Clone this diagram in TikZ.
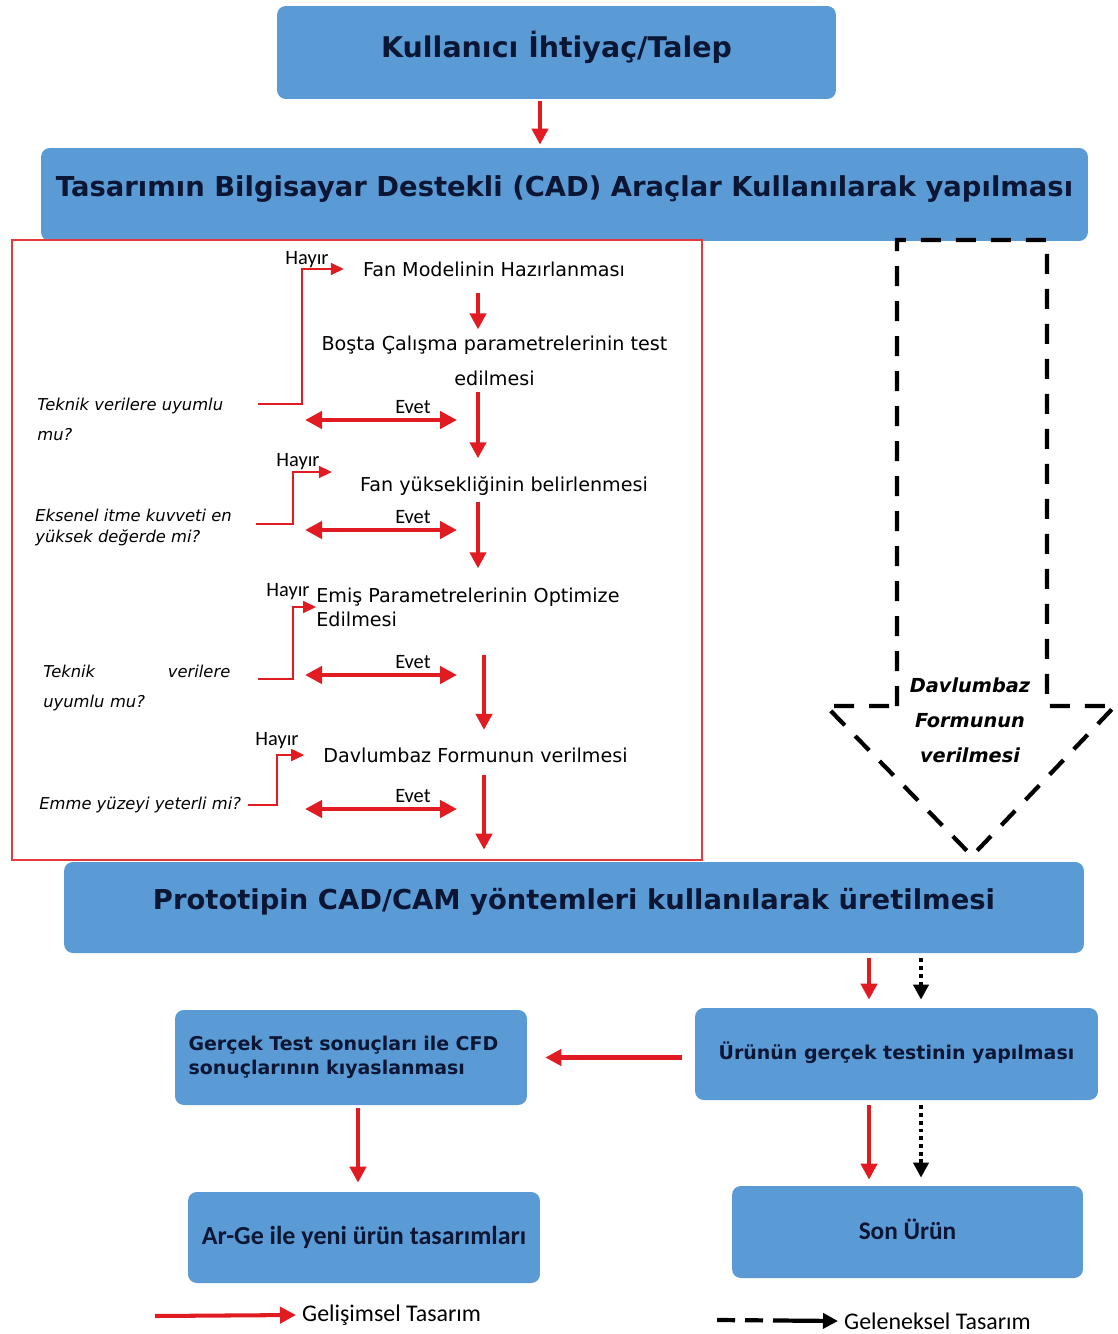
\documentclass[tikz,border=0pt]{standalone}
\usepackage{fontspec}
\setmainfont{DejaVu Sans}
\newfontfamily\calfont{Carlito}
\usetikzlibrary{arrows.meta}
\definecolor{boxblue}{HTML}{5B9BD5}
\definecolor{boxtext}{HTML}{0B1634}
\definecolor{flowred}{HTML}{E01B22}
\definecolor{framered}{HTML}{E5393B}
\tikzset{
  bluebox/.style={draw=none,fill=boxblue,rounded corners=5pt,text=boxtext,font=\bfseries,align=center},
  flowtext/.style={font=\fontsize{10.9}{13}\selectfont,align=center},
  question/.style={font=\itshape\fontsize{9.3}{17}\selectfont,align=left,inner sep=0pt,anchor=west},
  smalllabel/.style={font=\calfont\fontsize{11.6}{13}\selectfont},
  redarrow/.style={draw=flowred,line width=2.3pt,-{Triangle[width=0.32cm,length=0.32cm]}},
  evetarrow/.style={draw=flowred,line width=2.6pt,{Triangle[width=0.34cm,length=0.34cm]}-{Triangle[width=0.34cm,length=0.34cm]}},
  hayirarrow/.style={draw=flowred,line width=1pt,-{Triangle[width=0.24cm,length=0.26cm]}},
  dotarrow/.style={draw=black,line width=2.2pt,dash pattern=on 2.2pt off 2.2pt,-{Triangle[width=0.3cm,length=0.3cm]}},
}
\begin{document}
\begin{tikzpicture}[x=0.02cm,y=-0.02cm]
\useasboundingbox (0,0) rectangle (1117,1334);
\fill[white] (0,0) rectangle (1117,1334);

\node[bluebox,minimum width=11.18cm,minimum height=1.86cm,text depth=0.33cm,font=\bfseries\fontsize{16.2}{19}\selectfont] (talep) at (556.5,52.5) {Kullanıcı İhtiyaç/Talep};
\node[bluebox,minimum width=20.94cm,minimum height=1.86cm,text depth=0.33cm,font=\bfseries\fontsize{15.6}{19}\selectfont] (cad) at (564.5,194.5) {Tasarımın Bilgisayar Destekli (CAD) Araçlar Kullanılarak yapılması};
\draw[redarrow,shorten <=0.04cm,shorten >=0.06cm] ([xshift=-0.33cm]talep.south) -- ([xshift=-0.33cm]talep.south |- cad.north);

\draw[framered,line width=1.3pt] (12,240) rectangle (702,860);

\draw[line width=2.4pt,dash pattern=on 0.4cm off 0.3cm] (897,706) -- (897,240) -- (1047,240) -- (1047,706) -- (1115,706) -- (972,856) -- (826,706) -- cycle;
\node[font=\bfseries\itshape\fontsize{11}{19.9}\selectfont,align=center] (hood) at (970,720) {Davlumbaz\\Formunun\\verilmesi};

\node[flowtext] (fan) at (494,269) {Fan Modelinin Hazırlanması};
\node[flowtext,font=\fontsize{10.9}{19.9}\selectfont] (bosta) at (494.5,360.5) {Boşta Çalışma parametrelerinin test\\edilmesi};
\node[flowtext] (fanyuk) at (504,486) {Fan yüksekliğinin belirlenmesi};
\node[flowtext,font=\fontsize{10.9}{13.6}\selectfont,align=left,inner sep=0pt,anchor=west] (emis) at (316,607) {Emiş Parametrelerinin Optimize\\Edilmesi};
\node[flowtext] (davl) at (475.5,755) {Davlumbaz Formunun verilmesi};

\node[question] (q1) at (37,419) {Teknik verilere uyumlu\\mu?};
\node[question,font=\itshape\fontsize{9.3}{12}\selectfont] (q2) at (35,527.5) {Eksenel itme kuvveti en\\yüksek değerde mi?};
\node[question,text width=3.74cm] (q3) at (43,688) {Teknik\hfill verilere\\uyumlu mu?};
\node[question] (q4) at (39,805) {Emme yüzeyi yeterli mi?};

\node[smalllabel] (h1) at (307,260) {Hayır};
\node[smalllabel] (h2) at (298,462) {Hayır};
\node[smalllabel] (h3) at (288,592) {Hayır};
\node[smalllabel] (h4) at (277,741) {Hayır};

\coordinate (n1) at (258,404);
\coordinate (n2) at (256,524);
\coordinate (n3) at (258,679);
\coordinate (n4) at (248,805);
\draw[hayirarrow,shorten >=0.26cm] (n1) -- ++(44,0) |- (fan.west);
\draw[hayirarrow,shorten >=0.44cm] (n2) -- ++(37,0) |- ([yshift=0.28cm]fanyuk.west);
\draw[hayirarrow] (n3) -- ++(35,0) |- (emis.west);
\draw[hayirarrow,shorten >=0.26cm] (n4) -- ++(29,0) |- (davl.west);

\foreach \y/\n in {420/1,530/2,675/3,809/4}{
  \coordinate (ea\n) at (305,\y);
  \coordinate (eb\n) at (457,\y);
  \draw[evetarrow] (ea\n) -- (eb\n) node[smalllabel,pos=0.71,above=-1pt] (evet\n) {Evet};
}

\node[bluebox,minimum width=20.4cm,minimum height=1.82cm,text depth=0.33cm,font=\bfseries\fontsize{15.6}{19}\selectfont] (proto) at (574,907.5) {Prototipin CAD/CAM yöntemleri kullanılarak üretilmesi};

\coordinate (colA) at (478,0);
\coordinate (colB) at (484,0);
\draw[redarrow,shorten <=0.2cm] (fan.south -| colA) -- (bosta.north -| colA);
\draw[redarrow,shorten >=0.24cm] (bosta.south -| colA) -- (fanyuk.north -| colA);
\draw[redarrow,shorten >=0.38cm] (fanyuk.south -| colA) -- (emis.north -| colA);
\draw[redarrow,shorten <=0.56cm,shorten >=0.23cm] (emis.south -| colB) -- (davl.north -| colB);
\draw[redarrow,shorten <=0.13cm,shorten >=0.24cm] (davl.south -| colB) -- (proto.north -| colB);

\node[bluebox,minimum width=8.06cm,minimum height=1.84cm,text depth=0.12cm,font=\bfseries\fontsize{10.8}{13}\selectfont] (urun) at (896.5,1054) {Ürünün gerçek testinin yapılması};
\node[bluebox,minimum width=7.04cm,minimum height=1.9cm,text width=6.5cm,align=left,font=\bfseries\fontsize{10.8}{13.6}\selectfont] (kiyas) at (351,1057.5) {Gerçek Test sonuçları ile CFD\\sonuçlarının kıyaslanması};
\node[bluebox,minimum width=7.04cm,minimum height=1.82cm,font=\calfont\bfseries\fontsize{14.8}{17}\selectfont] (arge) at (364,1237.5) {Ar-Ge ile yeni ürün tasarımları};
\node[bluebox,minimum width=7.02cm,minimum height=1.84cm,text depth=0.12cm,font=\calfont\bfseries\fontsize{14.4}{17}\selectfont] (son) at (907.5,1232) {Son Ürün};

\coordinate (colR) at (869,0);
\coordinate (colK) at (921,0);
\coordinate (colG) at (358,0);
\draw[redarrow,shorten <=0.1cm,shorten >=0.16cm] (proto.south -| colR) -- (urun.north -| colR);
\draw[dotarrow,shorten <=0.1cm,shorten >=0.16cm] (proto.south -| colK) -- (urun.north -| colK);
\draw[redarrow,shorten <=0.1cm,shorten >=0.12cm] (urun.south -| colR) -- (son.north -| colR);
\draw[dotarrow,shorten <=0.1cm,shorten >=0.16cm] (urun.south -| colK) -- (son.north -| colK);
\draw[redarrow,shorten <=0.26cm,shorten >=0.36cm] (kiyas.east -| urun.west) -- (kiyas.east);
\draw[redarrow,shorten <=0.06cm,shorten >=0.18cm] (kiyas.south -| colG) -- (arge.north -| colG);

\node[smalllabel,font=\calfont\fontsize{13.6}{16}\selectfont,anchor=west] (lgel) at (296,1315) {Gelişimsel Tasarım};
\node[smalllabel,font=\calfont\fontsize{13.6}{16}\selectfont,anchor=west] (lgen) at (838,1321) {Geleneksel Tasarım};
\coordinate (lg1) at (155,1316);
\coordinate (lg2) at (717,1320);
\draw[redarrow] (lg1) -- (lgel.west);
\draw[line width=2.4pt,dash pattern=on 0.36cm off 0.2cm on 0.36cm off 0.2cm on 3cm,-{Triangle[width=0.3cm,length=0.3cm]}] (lg2) -- (lgen.west);
\end{tikzpicture}
\end{document}
